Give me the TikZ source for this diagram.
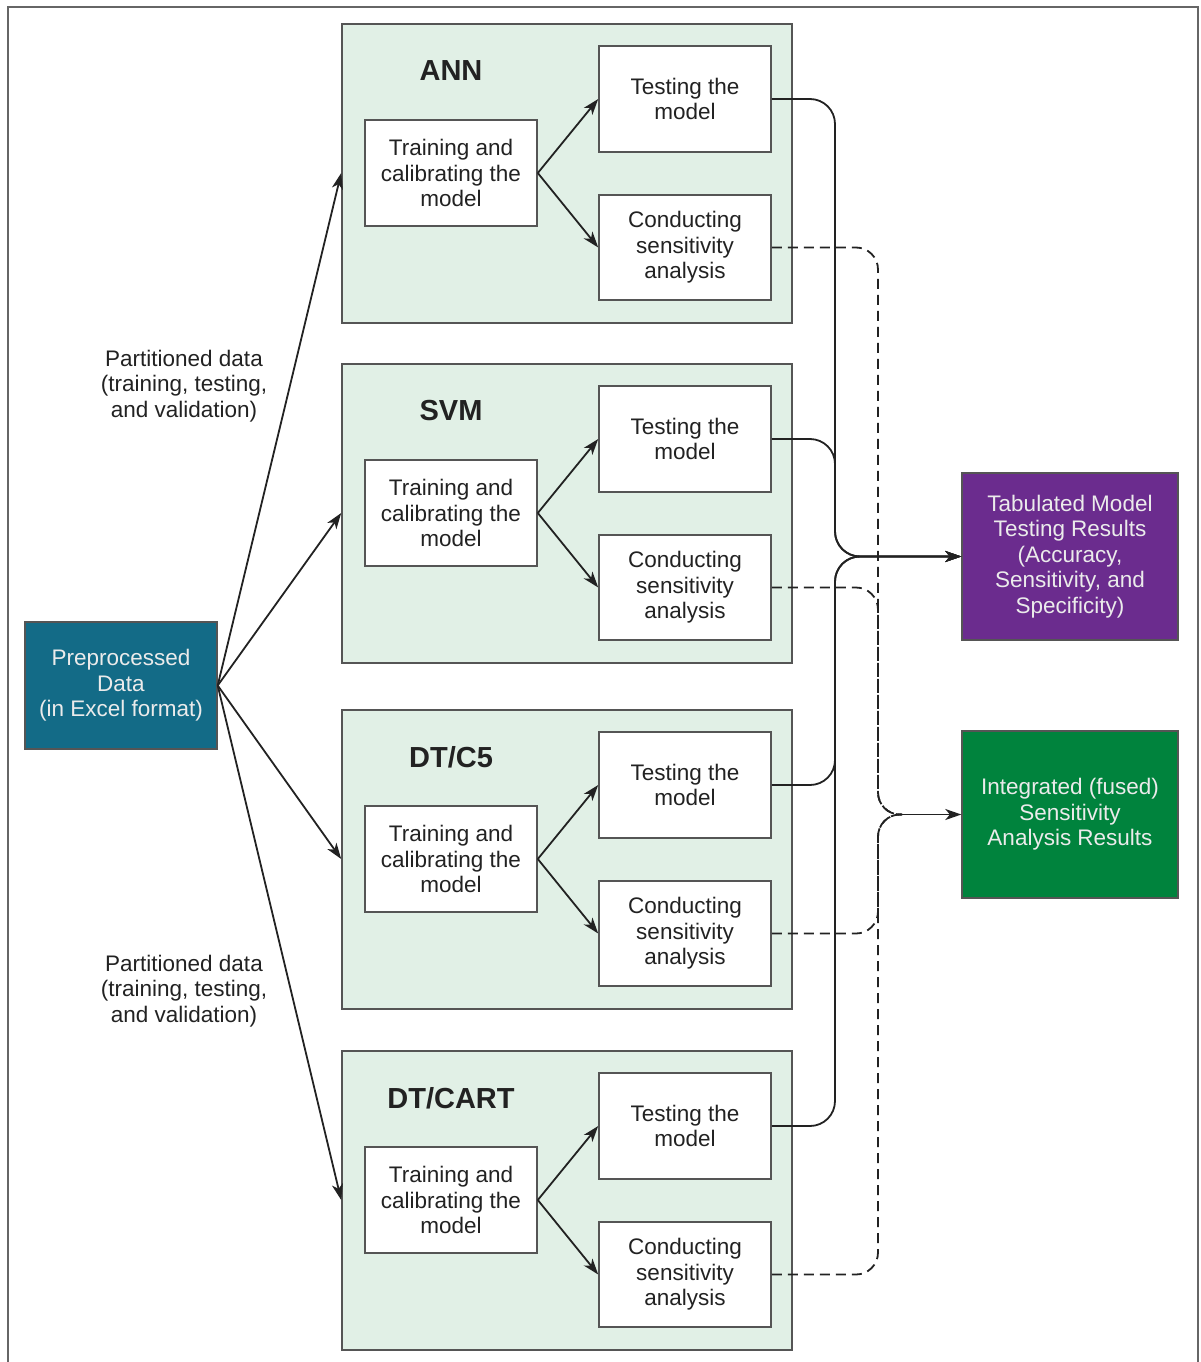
\documentclass[tikz,border=0pt]{standalone}
\usepackage{fontspec}
\setmainfont{Liberation Sans}
\usetikzlibrary{arrows.meta,positioning,calc}
\definecolor{panelfill}{HTML}{E1F0E6}
\definecolor{preblue}{HTML}{136B87}
\definecolor{tabpurple}{HTML}{6B2C8E}
\definecolor{intgreen}{HTML}{00833D}
\definecolor{framegray}{HTML}{666666}
\definecolor{boxgray}{HTML}{555555}
\definecolor{ink}{HTML}{222222}
\begin{document}
\begin{tikzpicture}[x=1pt,y=-1pt,
  every node/.style={font=\fontsize{22.5}{25.5}\selectfont, text=ink, align=center, inner sep=0pt},
  panel/.style={draw=boxgray, line width=1.6pt, fill=panelfill, minimum width=450pt, minimum height=299pt},
  wbox/.style={draw=boxgray, line width=1.6pt, fill=white, minimum width=172pt, minimum height=106pt},
  cbox/.style={draw=boxgray, line width=1.4pt, minimum width=216pt, minimum height=167pt, text=white!92!black},
  ptitle/.style={font=\fontsize{29}{30}\selectfont\bfseries},
  conn/.style={draw=ink, line width=1.8pt, -{Stealth[length=16pt,width=11pt,inset=4.5pt]}},
  dconn/.style={draw=ink, line width=1.8pt, dash pattern=on 10pt off 6pt}
]
\useasboundingbox (0,0) rectangle (1200,1362);
% frame (no bottom edge)
\draw[framegray, line width=2.2pt] (8,1362) -- (8,7) -- (1198,7) -- (1198,1362);

% input node
\node[cbox, fill=preblue, minimum width=192pt, minimum height=127pt] (pre) at (121,685.5)
  {Preprocessed\\Data\\(in Excel format)};

% output nodes
\node[cbox, fill=tabpurple] (tab) at (1070,556.5)
  {Tabulated Model\\Testing Results\\(Accuracy,\\Sensitivity, and\\Specificity)};
\node[cbox, fill=intgreen] (int) at (1070,814.5)
  {Integrated (fused)\\Sensitivity\\Analysis Results};

% panels
\foreach \nm/\top/\ttl in {ann/24/{ANN}, svm/364/{SVM}, cfive/710/{DT/C5}, cart/1051/{DT/CART}}{
  \node[panel] (\nm P) at (567,\top+149.5) {};
  \node[ptitle] (\nm H) at (451,\top+47) {\ttl};
  \node[wbox] (\nm R) at (451,\top+149) {Training and\\calibrating the\\model};
  \node[wbox] (\nm T) at (685,\top+75) {Testing the\\model};
  \node[wbox, minimum height=105pt] (\nm C) at (685,\top+223.5) {Conducting\\sensitivity\\analysis};
  \draw[conn] (\nm R.east) -- (\nm T.west);
  \draw[conn] (\nm R.east) -- (\nm C.west);
  \draw[conn] (pre.east) -- (\nm P.west |- \nm R);
}

% labels
\node (lab1) at (184,386) {Partitioned data\\(training, testing,\\and validation)};
\node (lab2) at (184,991) {Partitioned data\\(training, testing,\\and validation)};

% solid collectors to tabulated results
\coordinate (sx) at (835,0);
\foreach \nm in {ann, svm, cfive, cart}{
  \draw[conn, rounded corners=25pt] (\nm T.east) -| (sx |- tab.west) -- (tab.west);
}

% dashed collectors to integrated results
\coordinate (dx) at (878,0);
\coordinate (jn) at (902,814.5);
\foreach \nm in {ann, svm, cfive, cart}{
  \draw[dconn, rounded corners=22pt] (\nm C.east) -| (dx |- int.west) -- (jn);
}
\draw[conn] (jn) -- (int.west);
\end{tikzpicture}
\end{document}
